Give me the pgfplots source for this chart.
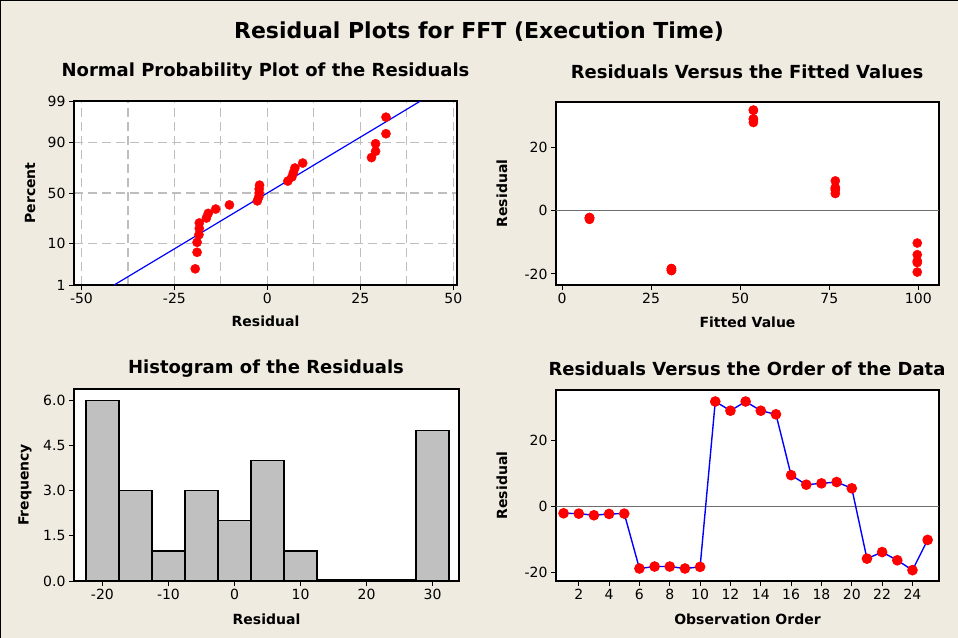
\documentclass[border=0pt]{standalone}
\usepackage{pgfplots}
\pgfplotsset{compat=1.18}
\usepackage{fontspec}
\setmainfont{DejaVu Sans}

\definecolor{bgbeige}{RGB}{239,235,224}
\definecolor{gridgray}{RGB}{190,190,190}
\definecolor{histgray}{RGB}{192,192,192}
\definecolor{refgray}{RGB}{110,110,110}

\newcommand\tickfont{\fontsize{14bp}{16bp}\selectfont}
\newcommand\labfont{\fontsize{14bp}{16bp}\selectfont\bfseries}
\newcommand\subfont{\fontsize{18bp}{20bp}\selectfont\bfseries}
\newcommand\titfont{\fontsize{22bp}{24bp}\selectfont\bfseries}

\pgfplotsset{
  panel/.style={
    scale only axis, anchor=north west,
    axis background/.style={fill=white},
    axis line style={line width=1.5bp},
    tick align=outside, major tick length=5bp, minor tick length=0pt,
    tick style={black, line width=1bp},
    xtick pos=bottom, ytick pos=left,
    tick label style={font=\tickfont},
    /pgf/number format/assume math mode=true,
    label style={font=\labfont},
  },
  resid/.style={only marks, mark=*, mark size=4.6bp, mark options={draw=red, fill=red}},
}

% residuals in observation order
\pgfplotstableread{
obs fit res
1  7.7  -2.1
2  7.7  -2.2
3  7.7  -2.7
4  7.7  -2.3
5  7.7  -2.2
6  30.7 -18.9
7  30.7 -18.3
8  30.7 -18.3
9  30.7 -18.9
10 30.7 -18.4
11 53.7 31.9
12 53.7 29.1
13 53.7 31.9
14 53.7 29.1
15 53.7 28.0
16 76.7 9.5
17 76.7 6.6
18 76.7 7.0
19 76.7 7.4
20 76.7 5.5
21 99.7 -15.9
22 99.7 -13.9
23 99.7 -16.4
24 99.7 -19.4
25 99.7 -10.2
}\residtable

% sorted residuals and normal scores
\pgfplotstableread{
res z
-19.4 -1.917
-18.9 -1.499
-18.9 -1.247
-18.4 -1.055
-18.3 -0.896
-18.3 -0.757
-16.4 -0.632
-15.9 -0.515
-13.9 -0.406
-10.2 -0.301
-2.7 -0.199
-2.3 -0.099
-2.2 0
-2.2 0.099
-2.1 0.199
5.5 0.301
6.6 0.406
7.0 0.515
7.4 0.632
9.5 0.757
28.0 0.896
29.1 1.055
29.1 1.247
31.9 1.499
31.9 1.917
}\probtable

\begin{document}
\begin{tikzpicture}
\useasboundingbox (0,0) rectangle (958bp,-638bp);
\fill[bgbeige] (0,0) rectangle (958bp,-638bp);
\draw[black, line width=1bp] (0.5bp,-638bp) -- (0.5bp,-0.5bp) -- (958bp,-0.5bp);

\node[font=\titfont] at (479bp,-32bp) {Residual Plots for FFT (Execution Time)};
\node[font=\subfont] at (265.5bp,-72bp) {Normal Probability Plot of the Residuals};
\node[font=\subfont] at (747bp,-72bp) {Residuals Versus the Fitted Values};
\node[font=\subfont] at (266bp,-369bp) {Histogram of the Residuals};
\node[font=\subfont] at (747bp,-369bp) {Residuals Versus the Order of the Data};

% normal probability plot
\begin{axis}[panel, at={(74bp,-101bp)}, width=383bp, height=184bp,
  xmin=-52, xmax=51, ymin=-2.3263, ymax=2.3263,
  xtick={-50,-25,0,25,50}, minor xtick={-37.5,-12.5,12.5,37.5},
  ytick={-2.3263,-1.2816,0,1.2816,2.3263}, yticklabels={1,10,50,90,99},
  grid=both, grid style={gridgray, line width=1.2bp, dash pattern=on 9bp off 5bp},
  xlabel={Residual}, ylabel={Percent},
  xlabel style={at={(axis description cs:0.5,0)}, anchor=center, yshift=-36bp},
  ylabel style={at={(axis description cs:0,0.5)}, anchor=center, yshift=44bp},
]
\addplot[blue, line width=1.2bp] coordinates {(-41.2,-2.3263) (41.2,2.3263)};
\addplot[resid] table[x=res, y=z] {\probtable};
\end{axis}

% versus fits
\begin{axis}[panel, at={(556bp,-102bp)}, width=383bp, height=183bp,
  xmin=-1.7, xmax=105.8, ymin=-23.5, ymax=34.5,
  xtick={0,25,50,75,100}, ytick={-20,0,20},
  xlabel={Fitted Value}, ylabel={Residual},
  xlabel style={at={(axis description cs:0.5,0)}, anchor=center, yshift=-37bp},
  ylabel style={at={(axis description cs:0,0.5)}, anchor=center, yshift=54bp},
]
\addplot[refgray, line width=1.2bp] coordinates {(-1.7,0) (105.8,0)};
\addplot[resid] table[x=fit, y=res] {\residtable};
\end{axis}

% histogram
\begin{axis}[panel, at={(74bp,-389bp)}, width=385bp, height=192bp,
  xmin=-24.3, xmax=34.0, ymin=0, ymax=6.37,
  xtick={-20,-10,0,10,20,30}, ytick={0,1.5,3,4.5,6},
  yticklabel style={/pgf/number format/.cd, fixed, fixed zerofill, precision=1},
  xlabel={Residual}, ylabel={Frequency},
  xlabel style={at={(axis description cs:0.5,0)}, anchor=center, yshift=-38bp},
  ylabel style={at={(axis description cs:0,0.5)}, anchor=center, yshift=49bp},
]
\addplot[ybar interval, fill=histgray, draw=black, line width=1.3bp] coordinates {
  (-22.5,6) (-17.5,3) (-12.5,1) (-7.5,3) (-2.5,2) (2.5,4) (7.5,1)
  (12.5,0) (17.5,0) (22.5,0) (27.5,5) (32.5,5)};
\addplot[black, line width=2bp] coordinates {(12.5,0.04) (27.5,0.04)};
\end{axis}

% versus order
\begin{axis}[panel, at={(556bp,-390bp)}, width=383bp, height=191bp,
  xmin=0.5, xmax=25.75, ymin=-22.7, ymax=35.4,
  xtick={2,4,...,24}, ytick={-20,0,20},
  xlabel={Observation Order}, ylabel={Residual},
  xlabel style={at={(axis description cs:0.5,0)}, anchor=center, yshift=-38bp},
  ylabel style={at={(axis description cs:0,0.5)}, anchor=center, yshift=54bp},
]
\addplot[refgray, line width=1.2bp] coordinates {(0.5,0) (25.75,0)};
\addplot[blue, line width=1.4bp, mark=*, mark size=4.6bp, mark options={draw=red, fill=red}]
  table[x=obs, y=res] {\residtable};
\end{axis}
\end{tikzpicture}
\end{document}
